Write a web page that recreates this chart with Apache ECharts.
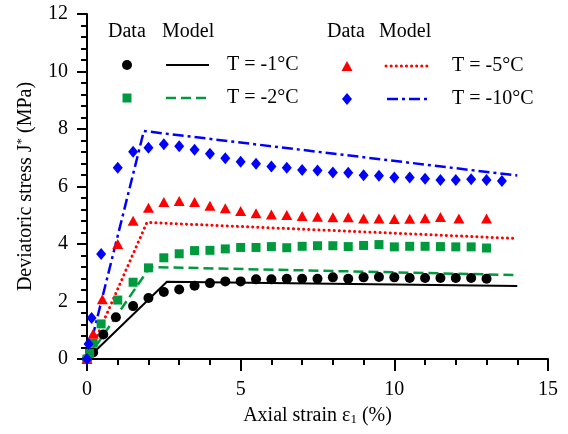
<!DOCTYPE html>
<html>
<head>
<meta charset="utf-8">
<script src="https://cdn.jsdelivr.net/npm/echarts@6/dist/echarts.min.js"></script>
<style>
  html, body { margin: 0; padding: 0; background: #fff; }
  #chart { width: 568px; height: 434px; }
</style>
</head>
<body>
<div id="chart"></div>
<script>
// Measured deviatoric stress J* (MPa) against axial strain (%) at four temperatures
const strainT1 = [0, 0.2, 0.53, 0.94, 1.5, 2.0, 2.5, 3.0, 3.5, 4.0, 4.5, 5.0, 5.5, 6.0, 6.5, 7.0, 7.5, 8.0, 8.5, 9.0, 9.5, 10.0, 10.5, 11.0, 11.5, 12.0, 12.5, 13.0];
const stressT1 = [0, 0.23, 0.85, 1.45, 1.84, 2.12, 2.33, 2.42, 2.55, 2.64, 2.70, 2.70, 2.77, 2.77, 2.79, 2.79, 2.79, 2.84, 2.79, 2.84, 2.85, 2.84, 2.82, 2.82, 2.82, 2.82, 2.82, 2.79];

const strainT2 = [0, 0.08, 0.2, 0.46, 1.0, 1.5, 2.0, 2.5, 3.0, 3.5, 4.0, 4.5, 5.0, 5.5, 6.0, 6.5, 7.0, 7.5, 8.0, 8.5, 9.0, 9.5, 10.0, 10.5, 11.0, 11.5, 12.0, 12.5, 13.0];
const stressT2 = [0, 0.2, 0.55, 1.22, 2.05, 2.67, 3.17, 3.52, 3.66, 3.77, 3.78, 3.83, 3.88, 3.88, 3.91, 3.87, 3.92, 3.94, 3.94, 3.91, 3.95, 3.98, 3.90, 3.92, 3.92, 3.91, 3.90, 3.90, 3.86];

const strainT5 = [0, 0.2, 0.5, 1.0, 1.5, 2.0, 2.5, 3.0, 3.5, 4.0, 4.5, 5.0, 5.5, 6.0, 6.5, 7.0, 7.5, 8.0, 8.5, 9.0, 9.5, 10.0, 10.5, 11.0, 11.5, 12.1, 13.0];
const stressT5 = [0, 0.88, 2.08, 4.0, 4.81, 5.26, 5.46, 5.5, 5.46, 5.33, 5.24, 5.15, 5.07, 5.03, 5.01, 4.97, 4.95, 4.93, 4.93, 4.89, 4.89, 4.87, 4.88, 4.90, 4.94, 4.89, 4.89];

const strainT10 = [0, 0.05, 0.15, 0.46, 1.0, 1.5, 2.0, 2.5, 3.0, 3.5, 4.0, 4.5, 5.0, 5.5, 6.0, 6.5, 7.0, 7.5, 8.0, 8.5, 9.0, 9.5, 10.0, 10.5, 11.0, 11.5, 12.0, 12.5, 13.0, 13.5];
const stressT10 = [0, 0.52, 1.43, 3.65, 6.65, 7.21, 7.35, 7.47, 7.40, 7.28, 7.14, 6.98, 6.86, 6.79, 6.70, 6.65, 6.57, 6.56, 6.49, 6.48, 6.39, 6.37, 6.31, 6.31, 6.27, 6.23, 6.23, 6.25, 6.23, 6.19];

// Model predictions (piecewise linear: elastic rise, peak, softening)
const modelStrainT1 = [0, 2.6, 14];
const modelStressT1 = [0, 2.69, 2.54];
const modelStrainT2 = [0, 2.05, 14];
const modelStressT2 = [0, 3.2, 2.92];
const modelStrainT5 = [0, 1.95, 14];
const modelStressT5 = [0, 4.75, 4.19];
const modelStrainT10 = [0, 1.85, 14];
const modelStressT10 = [0, 7.93, 6.38];

const tempLabels = ['T = -1°C', 'T = -2°C', 'T = -5°C', 'T = -10°C'];
const xTicks = [0, 5, 10, 15];
const yTicks = [0, 2, 4, 6, 8, 10, 12];

const BLACK = '#000000';
const GREEN = '#009a3e';
const RED = '#ff0000';
const BLUE = '#0000ff';
const FONT = "'Liberation Serif', 'Times New Roman', serif";

const pairs = (xs, ys) => xs.map((x, i) => [x, ys[i]]);

const chart = echarts.init(document.getElementById('chart'), null, { renderer: 'canvas' });

const axisCommon = {
  axisLine: { show: true, onZero: false, lineStyle: { color: BLACK, width: 2 } },
  axisTick: { show: true, inside: false, lineStyle: { color: BLACK, width: 2 } },
  minorTick: { show: true, splitNumber: 5, length: 6, lineStyle: { color: BLACK, width: 2 } },
  splitLine: { show: false },
  minorSplitLine: { show: false },
  axisLabel: { color: BLACK, fontSize: 20, fontFamily: FONT },
  nameTextStyle: { color: BLACK, fontSize: 20, fontFamily: FONT }
};

function modelSeries(xs, ys, color, type, width, cap) {
  return {
    type: 'line',
    data: pairs(xs, ys),
    symbol: 'none',
    silent: true,
    z: 2,
    lineStyle: { color: color, width: width, type: type, cap: cap || 'butt' }
  };
}

function dataSeries(xs, ys, color, symbol, size) {
  return {
    type: 'scatter',
    data: pairs(xs, ys),
    symbol: symbol,
    symbolSize: size,
    z: 3,
    itemStyle: { color: color, opacity: 1 }
  };
}

// Legend block drawn as graphics: marker column, line column, label column
const legendRows = [
  { y: 65, mx: 127, lx1: 166, lx2: 209, tx: 227 },
  { y: 98, mx: 127, lx1: 166, lx2: 208, tx: 227 },
  { y: 66, mx: 347, lx1: 386, lx2: 429, tx: 452 },
  { y: 99, mx: 347, lx1: 387, lx2: 428, tx: 452 }
];
const textStyleBase = { fill: BLACK, fontSize: 20, fontFamily: FONT, verticalAlign: 'middle', align: 'left' };
const graphics = [
  { type: 'text', left: 108, top: 22, style: Object.assign({}, textStyleBase, { text: 'Data', verticalAlign: 'top' }) },
  { type: 'text', left: 162, top: 22, style: Object.assign({}, textStyleBase, { text: 'Model', verticalAlign: 'top' }) },
  { type: 'text', left: 327, top: 22, style: Object.assign({}, textStyleBase, { text: 'Data', verticalAlign: 'top' }) },
  { type: 'text', left: 379, top: 22, style: Object.assign({}, textStyleBase, { text: 'Model', verticalAlign: 'top' }) }
];
const legendStyles = [
  { color: BLACK, dash: null, width: 2, cap: 'butt' },
  { color: GREEN, dash: [10, 5], width: 2.5, cap: 'butt' },
  { color: RED, dash: [0.1, 5], width: 3, cap: 'round' },
  { color: BLUE, dash: [11, 4, 3, 4], width: 2.5, cap: 'butt' }
];
legendRows.forEach((r, i) => {
  const s = legendStyles[i];
  let marker;
  if (i === 0) {
    marker = { type: 'circle', shape: { cx: r.mx, cy: r.y, r: 5 }, style: { fill: BLACK } };
  } else if (i === 1) {
    marker = { type: 'rect', shape: { x: r.mx - 4.5, y: r.y - 4.5, width: 9, height: 9 }, style: { fill: GREEN } };
  } else if (i === 2) {
    marker = { type: 'polygon', shape: { points: [[r.mx, r.y - 5], [r.mx + 5.5, r.y + 5], [r.mx - 5.5, r.y + 5]] }, style: { fill: RED } };
  } else {
    marker = { type: 'polygon', shape: { points: [[r.mx, r.y - 6], [r.mx + 5, r.y], [r.mx, r.y + 6], [r.mx - 5, r.y]] }, style: { fill: BLUE } };
  }
  graphics.push(marker);
  graphics.push({
    type: 'line',
    shape: { x1: r.lx1, y1: r.y, x2: r.lx2, y2: r.y },
    style: { stroke: s.color, lineWidth: s.width, lineDash: s.dash, lineCap: s.cap }
  });
  graphics.push({
    type: 'text', x: r.tx, y: r.y,
    style: Object.assign({}, textStyleBase, { text: tempLabels[i] })
  });
});

chart.setOption({
  backgroundColor: '#ffffff',
  animation: false,
  grid: { left: 87, right: 20, top: 14, bottom: 75, containLabel: false },
  xAxis: Object.assign({}, axisCommon, {
    type: 'value',
    min: xTicks[0],
    max: xTicks[xTicks.length - 1],
    interval: xTicks[1] - xTicks[0],
    axisTick: Object.assign({}, axisCommon.axisTick, { length: 12 }),
    axisLabel: Object.assign({}, axisCommon.axisLabel, { margin: 21 }),
    name: 'Axial strain ε{sub|1} (%)',
    nameLocation: 'middle',
    nameGap: 46,
    nameTextStyle: Object.assign({}, axisCommon.nameTextStyle, {
      rich: { sub: { fontSize: 13, fontFamily: FONT, color: BLACK, verticalAlign: 'bottom', padding: [8, 0, 0, 0] } }
    })
  }),
  yAxis: Object.assign({}, axisCommon, {
    type: 'value',
    min: yTicks[0],
    max: yTicks[yTicks.length - 1],
    interval: yTicks[1] - yTicks[0],
    axisTick: Object.assign({}, axisCommon.axisTick, { length: 10 }),
    axisLabel: Object.assign({}, axisCommon.axisLabel, { margin: 19 }),
    name: 'Deviatoric stress J{sup|*} (MPa)',
    nameLocation: 'middle',
    nameGap: 51,
    nameTextStyle: Object.assign({}, axisCommon.nameTextStyle, {
      rich: { sup: { fontSize: 13, fontFamily: FONT, color: BLACK, verticalAlign: 'top', padding: [0, 0, 8, 0] } }
    })
  }),
  graphic: graphics,
  series: [
    modelSeries(modelStrainT1, modelStressT1, BLACK, 'solid', 2),
    modelSeries(modelStrainT2, modelStressT2, GREEN, [10, 5], 2.5),
    modelSeries(modelStrainT5, modelStressT5, RED, [0.1, 5], 3, 'round'),
    modelSeries(modelStrainT10, modelStressT10, BLUE, [11, 4, 3, 4], 2.5),
    dataSeries(strainT1, stressT1, BLACK, 'circle', 10),
    dataSeries(strainT2, stressT2, GREEN, 'rect', 9),
    dataSeries(strainT5, stressT5, RED, 'triangle', [11, 10]),
    dataSeries(strainT10, stressT10, BLUE, 'diamond', [10, 12])
  ]
});
</script>
</body>
</html>
